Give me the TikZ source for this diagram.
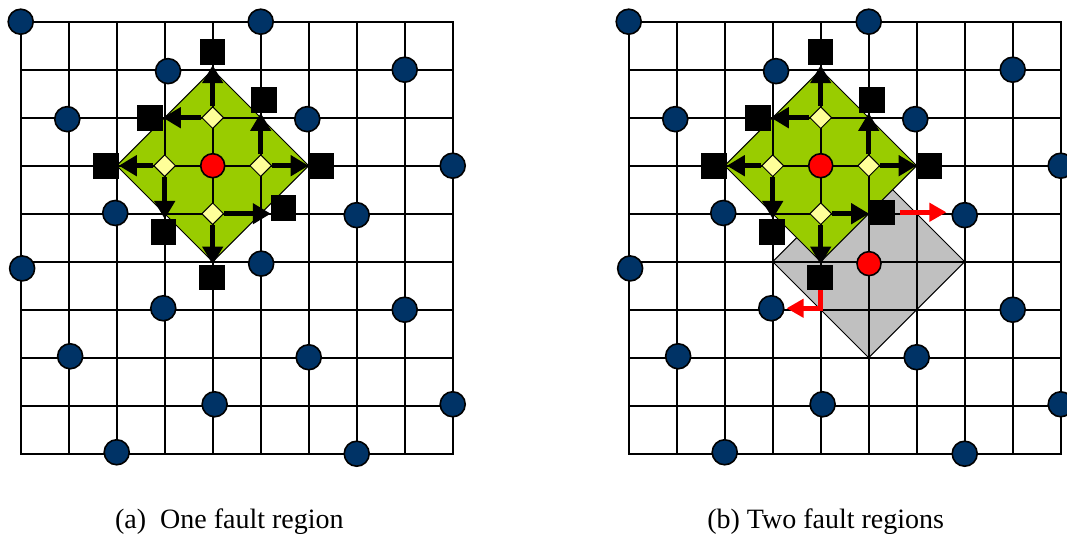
\documentclass[tikz,border=0pt]{standalone}
\usepackage{fontspec}
\setmainfont{Liberation Serif}
\usetikzlibrary{shapes.geometric,arrows.meta}

\definecolor{navy}{HTML}{003366}
\definecolor{lime}{HTML}{99CC00}
\definecolor{ash}{HTML}{C0C0C0}
\definecolor{pale}{HTML}{FFFF99}

\tikzset{
  mesh/.style={line width=2.2pt, black, line cap=rect},
  region/.style={line width=1pt, draw=black, line join=miter},
  healthy/.style={circle, fill=navy, draw=black, line width=1.6pt, minimum size=25pt, inner sep=0pt},
  faulty/.style={circle, fill=red, draw=black, line width=1.6pt, minimum size=24pt, inner sep=0pt},
  probe/.style={diamond, aspect=1, fill=pale, draw=black, line width=1pt, minimum size=22pt, inner sep=0pt},
  boundary/.style={rectangle, fill=black, minimum size=25.5pt, inner sep=0pt},
  push/.style={line width=5.5pt, black, -{Triangle[width=20pt,length=18pt]}},
  alarm/.style={line width=5pt, red, -{Triangle[width=18pt,length=17pt]}},
  caption/.style={anchor=base, font=\fontsize{28}{32}\selectfont}
}

% One mesh with a fault region centred on node (4,3).
% #1 = name prefix, #2 = position of the lower-right boundary node,
% #3 = anything painted beneath the green region
\newcommand\faultmesh[3]{%
  #3
  \draw[region, fill=lime] (4,1) -- (6,3) -- (4,5) -- (2,3) -- cycle;
  \foreach \t in {0,...,9} {
    \draw[mesh] (\t,0) -- (\t,9);
    \draw[mesh] (0,\t) -- (9,\t);
  }
  \foreach \p [count=\k] in {(0,0),(5,0),(3.07,1.03),(8,1),(0.97,2.03),(5.97,2.03),
      (9,3),(1.97,3.985),(7,4.03),(0.03,5.14),(2.97,5.97),(8,6),(1.03,6.97),
      (6,6.99),(4.04,7.97),(9,7.97),(2,8.97),(7,9)}
    \node[healthy] (#1h\k) at \p {};
  \node[faulty] (#1f) at (4,3) {};
  \node[probe] (#1n) at (4,2) {};
  \node[probe] (#1w) at (3,3) {};
  \node[probe] (#1e) at (5,3) {};
  \node[probe] (#1s) at (4,4) {};
  \node[boundary] (#1q1) at (4,0.635) {};
  \node[boundary] (#1q2) at (5.065,1.63) {};
  \node[boundary] (#1q3) at (2.69,2.006) {};
  \node[boundary] (#1q4) at (1.773,3.006) {};
  \node[boundary] (#1q5) at (6.27,3.006) {};
  \node[boundary] (#1q6) at #2 {};
  \node[boundary] (#1q7) at (2.98,4.38) {};
  \node[boundary] (#1q8) at (3.99,5.33) {};
  \draw[push] (#1n) -- (#1n |- #1q1.south);
  \draw[push] (#1n) -- (#1n -| #1q3.east);
  \draw[push] (#1w) -- (#1w -| #1q4.east);
  \draw[push] (#1w) -- (#1w |- #1q7.north);
  \draw[push] (#1e) -- (#1e |- #1q2.south);
  \draw[push] (#1e) -- (#1e -| #1q5.west);
  \draw[push] (#1s) -- (#1s -| #1q6.west);
  \draw[push] (#1s) -- (#1s |- #1q8.north);
}

\begin{document}
\begin{tikzpicture}[x=48pt, y=-48pt]
  \clip (-0.43125,-0.45208) rectangle (21.7979,10.6521);

  % (a) a single fault region
  \faultmesh{a}{(5.48,3.88)}{}
  \node[healthy] (ah19) at (5.01,5.04) {};
  \node[caption] (capa) at (4.346,10.55) {(a)~ One fault region};

  % (b) a second fault region overlapping the first
  \begin{scope}[xshift=608pt]
    \faultmesh{b}{(5.28,3.97)}{%
      \draw[region, fill=ash] (5,3) -- (7,5) -- (5,7) -- (3,5) -- cycle;}
    \node[faulty] (bf2) at (5.006,5.04) {};
    \draw[alarm, shorten <=5pt, shorten >=5pt] (bq6.east) -- (bq6.east -| bh9.west);
    \draw[alarm, shorten >=2pt] (bq8.south) |- (bh11.east);
    \node[caption] (capb) at (4.103,10.55) {(b) Two fault regions};
  \end{scope}
\end{tikzpicture}
\end{document}
